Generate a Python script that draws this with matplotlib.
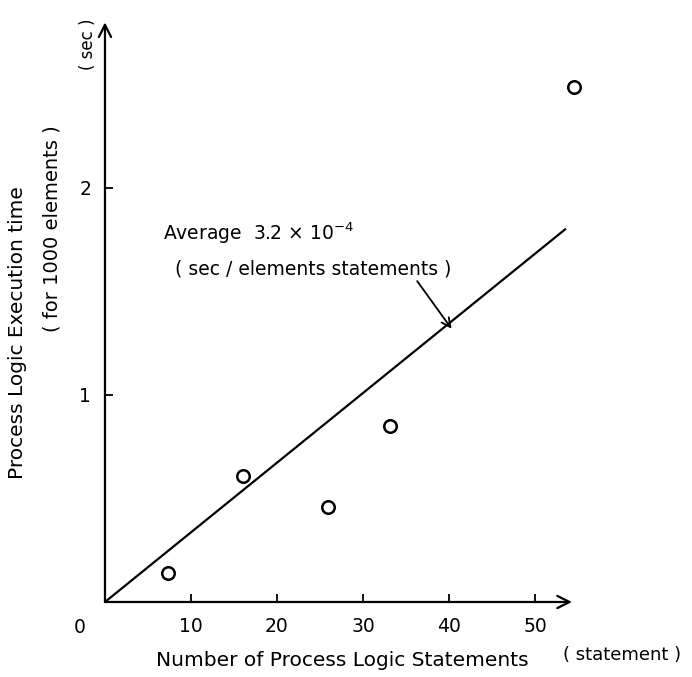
import numpy as np
import matplotlib
matplotlib.use("Agg")
from matplotlib import pyplot as plt

# measured points (statements, sec per 1000 elements)
statements = [7.3, 16.0, 25.9, 33.1, 54.5]
exec_time = [0.14, 0.61, 0.46, 0.85, 2.49]

# average fit line
fit_x = [0, 53.5]
fit_y = [0, 1.80]

x_ticks = [10, 20, 30, 40, 50]
y_ticks = [1, 2]

plt.rcParams['font.family'] = ['DejaVu Sans']

fig = plt.figure(figsize=(6.92, 6.77), dpi=100)
ax = fig.add_axes([0.1517, 0.1108, 0.696, 0.8715])
ax.set_xlim(0, 56)
ax.set_ylim(0, 2.85)
for s in ax.spines.values():
    s.set_visible(False)

# axes drawn as arrows
ax.annotate("", xy=(54.3, 0), xytext=(0, 0),
            arrowprops=dict(arrowstyle="->", lw=1.6, color="black",
                            shrinkA=0, shrinkB=0, mutation_scale=22))
ax.annotate("", xy=(0, 2.80), xytext=(0, 0),
            arrowprops=dict(arrowstyle="->", lw=1.6, color="black",
                            shrinkA=0, shrinkB=0, mutation_scale=22))

ax.set_xticks(x_ticks)
ax.set_yticks(y_ticks)
ax.set_xticklabels([str(t) for t in x_ticks])
ax.set_yticklabels([str(t) for t in y_ticks])
ax.tick_params(axis='x', direction='in', length=6, width=1.3, pad=11, labelsize=13.5)
ax.tick_params(axis='y', direction='in', length=6, width=1.3, pad=10, labelsize=13.5)
ax.text(-2.9, -0.125, "0", ha='center', va='center', fontsize=13.5, clip_on=False)

ax.plot(fit_x, fit_y, color='black', lw=1.6)
ax.plot(statements, exec_time, 'o', mfc='white', mec='black', ms=9, mew=1.8)

ax.text(6.7, 1.78, "Average  3.2 × 10$^{-4}$", fontsize=13.5, va='center')
ax.text(8.1, 1.61, "( sec / elements statements )", fontsize=13.5, va='center')
ax.annotate("", xy=(40.3, 1.32), xytext=(36.3, 1.55),
            arrowprops=dict(arrowstyle="->", lw=1.3, color="black",
                            shrinkA=0, shrinkB=0, mutation_scale=16))

fig.text(342 / 692, 1 - 660 / 677, "Number of Process Logic Statements",
         ha='center', va='center', fontsize=14.5)
fig.text(622 / 692, 1 - 655 / 677, "( statement )", ha='center', va='center', fontsize=13)
fig.text(18 / 692, 1 - 333 / 677, "Process Logic Execution time",
         ha='center', va='center', rotation=90, fontsize=14.5)
fig.text(52 / 692, 1 - 229 / 677, "( for 1000 elements )",
         ha='center', va='center', rotation=90, fontsize=14)
fig.text(88 / 692, 1 - 44 / 677, "( sec )", ha='center', va='center', rotation=90, fontsize=12)

fig.savefig("out.png", dpi=100)
